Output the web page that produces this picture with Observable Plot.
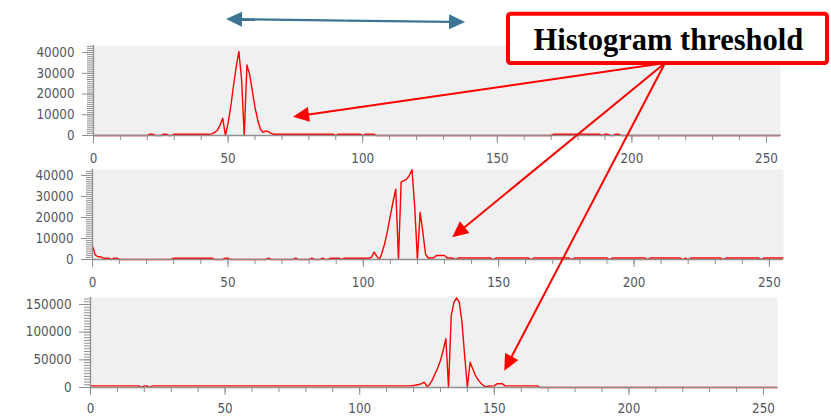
<!DOCTYPE html>
<html><head><meta charset="utf-8">
<script src="https://cdn.jsdelivr.net/npm/d3@7"></script>
<script src="https://cdn.jsdelivr.net/npm/@observablehq/plot@0.6"></script>
<style>
html,body{margin:0;padding:0;background:#fff;}
#wrap{position:relative;width:831px;height:416px;overflow:hidden;background:#fff;}
#wrap svg{position:absolute;left:0;top:0;}
</style></head><body><div id="wrap"></div>
<script>
// ---------- data: pixel-intensity histograms, bins 0..255 ----------
const hist1 = [
0,0,0,0,0,0,0,0,0,0,0,0,0,0,0,0,
0,0,0,0,0,600,600,0,0,0,600,600,0,0,600,600,
600,600,600,600,600,600,600,600,600,600,600,600,800,1500,2500,5000,
8300,0,6000,14000,24000,33000,40500,27000,0,34000,29500,21500,13500,7500,3000,1500,
2200,1800,1000,600,600,600,600,600,600,600,600,600,600,600,600,600,
600,600,600,600,600,600,600,600,600,600,0,600,600,600,600,600,
600,600,600,600,0,600,600,600,600,0,0,0,0,0,0,0,
0,0,0,0,0,0,0,0,0,0,0,0,0,0,0,0,
0,0,0,0,0,0,0,0,0,0,0,0,0,0,0,0,
0,0,0,0,0,0,0,0,0,0,0,0,0,0,0,0,
0,0,0,0,0,0,0,0,0,0,0,600,600,600,600,600,
600,600,600,600,600,600,600,600,600,600,600,600,600,0,600,600,
0,0,600,600,0,0,0,0,0,0,0,0,0,0,0,0,
0,0,0,0,0,0,0,0,0,0,0,0,0,0,0,0,
0,0,0,0,0,0,0,0,0,0,0,0,0,0,0,0,
0,0,0,0,0,0,0,0,0,0,0,0,0,0,0,0
];
const hist2 = [
6500,2200,1300,1300,600,600,600,0,600,600,0,0,0,0,0,0,
0,0,0,0,0,0,0,0,0,0,0,0,0,0,600,600,
600,600,600,600,600,600,600,600,600,600,600,600,600,0,0,0,
0,600,600,0,0,0,0,0,0,0,0,0,0,0,0,0,
0,600,0,0,0,0,0,0,0,0,0,600,0,0,0,0,
0,600,0,0,0,600,0,0,600,600,600,600,0,600,600,600,
600,600,600,600,600,600,600,1000,3500,1500,0,3500,8000,14000,21000,27500,
33500,0,37000,37600,38300,40000,42700,25000,0,22500,13000,2500,700,700,700,1900,
1900,1900,1900,700,700,700,0,700,700,700,700,700,700,700,700,700,
700,700,700,700,0,700,700,700,700,700,700,700,700,700,700,700,
700,700,0,700,700,700,700,700,700,700,700,700,700,700,700,700,
700,0,700,700,700,700,700,700,700,700,700,700,700,700,700,0,
700,700,700,700,700,700,700,700,700,700,700,700,700,0,700,700,
700,700,700,700,700,700,700,700,700,700,0,700,0,700,700,700,
700,700,700,700,700,700,700,700,700,0,700,700,700,700,700,700,
700,700,700,700,700,700,700,0,700,700,700,700,700,700,700,700
];
const hist3 = [
3000,3000,3000,3000,3000,3000,3000,3000,3000,3000,3000,3000,3000,3000,3000,3000,
3000,3000,3000,0,3000,3000,0,3000,3000,3000,3000,3000,3000,3000,3000,3000,
3000,3000,3000,3000,3000,3000,3000,3000,3000,3000,3000,3000,3000,3000,3000,3000,
3000,3000,3000,3000,3000,3000,3000,3000,3000,3000,3000,3000,3000,3000,3000,3000,
3000,3000,3000,3000,3000,3000,3000,3000,3000,3000,3000,3000,3000,3000,3000,3000,
3000,3000,3000,3000,3000,3000,3000,3000,3000,3000,3000,3000,3000,3000,3000,3000,
3000,3000,3000,3000,3000,3000,3000,3000,3000,3000,3000,3000,3000,3000,3000,3000,
3000,3000,3000,3000,3000,3000,3000,3000,3500,4500,5500,7000,9500,1500,5500,13800,
24700,35500,48800,66800,88000,0,130000,154000,162000,154000,118000,57000,0,45700,33700,21700,
13800,7800,3600,1000,2800,2400,3000,6800,6800,6800,3000,3000,3000,3000,3000,3000,
3000,3000,3000,3000,3000,3000,3000,0,0,0,0,0,0,0,0,0,
0,0,0,0,0,0,0,0,0,0,0,0,0,0,0,0,
0,0,0,0,0,0,0,0,0,0,0,0,0,0,0,0,
0,0,0,0,0,0,0,0,0,0,0,0,0,0,0,0,
0,0,0,0,0,0,0,0,0,0,0,0,0,0,0,0,
0,0,0,0,0,0,0,0,0,0,0,0,0,0,0,0
];
const xTickLabels = [0, 50, 100, 150, 200, 250];
const yTickLabels1 = [0, 10000, 20000, 30000, 40000];
const yTickLabels2 = [0, 10000, 20000, 30000, 40000];
const yTickLabels3 = [0, 50000, 100000, 150000];
const labelText = "Histogram threshold";

// ---------- layout ----------
const W = 831, H = 416;
const AXIS = "#8f8f8f", TEXT = "#505560";
const FONT = "'DejaVu Sans Condensed','DejaVu Sans',sans-serif";

function panel(values, yTicks, cfg) {
  const data = values.map((v, i) => ({bin: i, count: v}));
  return Plot.plot({
    width: W, height: H,
    marginLeft: cfg.left, marginRight: cfg.right, marginTop: cfg.top, marginBottom: cfg.bottom,
    x: {domain: [0, 255.2]},
    y: {domain: [0, cfg.yMax]},
    style: {background: "transparent", fontFamily: FONT, fontSize: "13.3px", color: TEXT, overflow: "visible"},
    marks: [
      Plot.frame({fill: "#f0f0f0", stroke: "none"}),
      Plot.line(data, {x: "bin", y: "count", stroke: "#ff0000", strokeWidth: 1.4}),
      Plot.ruleY([0], {stroke: AXIS, strokeWidth: 1.4}),
      Plot.ruleX([0], {stroke: AXIS, strokeWidth: 1.3}),
      Plot.axisX({ticks: d3.range(0, 256, 10), tickSize: 5, tickFormat: () => "", stroke: AXIS, label: null}),
      Plot.axisX({ticks: xTickLabels, tickSize: 8, tickPadding: cfg.xPad, stroke: AXIS, fill: TEXT, label: null, fontSize: 13.3}),
      Plot.axisY({ticks: d3.range(0, cfg.yMax, cfg.minor), tickSize: 6, tickFormat: () => "", stroke: AXIS, label: null}),
      Plot.axisY({ticks: yTicks, tickSize: 11, tickPadding: 8, tickFormat: d => String(d), stroke: AXIS, fill: TEXT, label: null, fontSize: 13.3})
    ]
  });
}

const wrap = document.getElementById("wrap");
const p1 = panel(hist1, yTickLabels1, {left: 93, right: 51, top: 45, bottom: 281, yMax: 43400, minor: 1000, xPad: 10});
const p2 = panel(hist2, yTickLabels2, {left: 92, right: 48, top: 169, bottom: 157, yMax: 42860, minor: 1000, xPad: 10});
const p3 = panel(hist3, yTickLabels3, {left: 90, right: 54, top: 297, bottom: 29, yMax: 162650, minor: 5000, xPad: 8});
wrap.append(p1, p2, p3);

// ---------- annotations (anchored in each panel's data space) ----------
const X1 = p1.scale("x"), Y1 = p1.scale("y");
const X2 = p2.scale("x"), Y2 = p2.scale("y");
const X3 = p3.scale("x"), Y3 = p3.scale("y");

const svg = d3.select(wrap).append("svg").attr("width", W).attr("height", H);

function arrow(g, x1, y1, x2, y2, color, width, headLen, headW) {
  const dx = x2 - x1, dy = y2 - y1, L = Math.hypot(dx, dy), ux = dx / L, uy = dy / L;
  const bx = x2 - ux * headLen, by = y2 - uy * headLen;
  g.append("line").attr("x1", x1).attr("y1", y1).attr("x2", bx + ux * 2).attr("y2", by + uy * 2)
    .attr("stroke", color).attr("stroke-width", width);
  g.append("polygon").attr("fill", color)
    .attr("points", [[x2, y2], [bx - uy * headW / 2, by + ux * headW / 2], [bx + uy * headW / 2, by - ux * headW / 2]].map(p => p.join(",")).join(" "));
}

// blue double-headed arrow above the first panel
const bA = [X1.apply(49.4), Y1.apply(55900)], bB = [X1.apply(138.2), Y1.apply(54460)];
const mid = [(bA[0] + bB[0]) / 2, (bA[1] + bB[1]) / 2];
const blue = "#3d7393";
arrow(svg, mid[0], mid[1], bA[0], bA[1], blue, 2.3, 16, 15);
arrow(svg, mid[0], mid[1], bB[0], bB[1], blue, 2.3, 16, 15);

// red arrows from the label to the threshold region of each histogram
const origin = [X1.apply(212.5), Y1.apply(34700)];
const tips = [
  [X1.apply(74.3), Y1.apply(8820)],
  [X2.apply(133.05), Y2.apply(10330)],
  [X3.apply(153.9), Y3.apply(29460)]
];
for (const t of tips) arrow(svg, origin[0], origin[1], t[0], t[1], "#ff0000", 2, 16, 15);

// label box
svg.append("rect").attr("x", 508).attr("y", 13.7).attr("width", 319).attr("height", 49.3)
  .attr("rx", 2.5).attr("fill", "#fff").attr("stroke", "#ff0000").attr("stroke-width", 4);
svg.append("text").attr("x", 668.4).attr("y", 50).attr("text-anchor", "middle")
  .attr("font-family", "'Liberation Serif','Times New Roman',serif").attr("font-weight", "bold")
  .attr("font-size", 30.5).attr("fill", "#000").text(labelText);
</script>
</body></html>
